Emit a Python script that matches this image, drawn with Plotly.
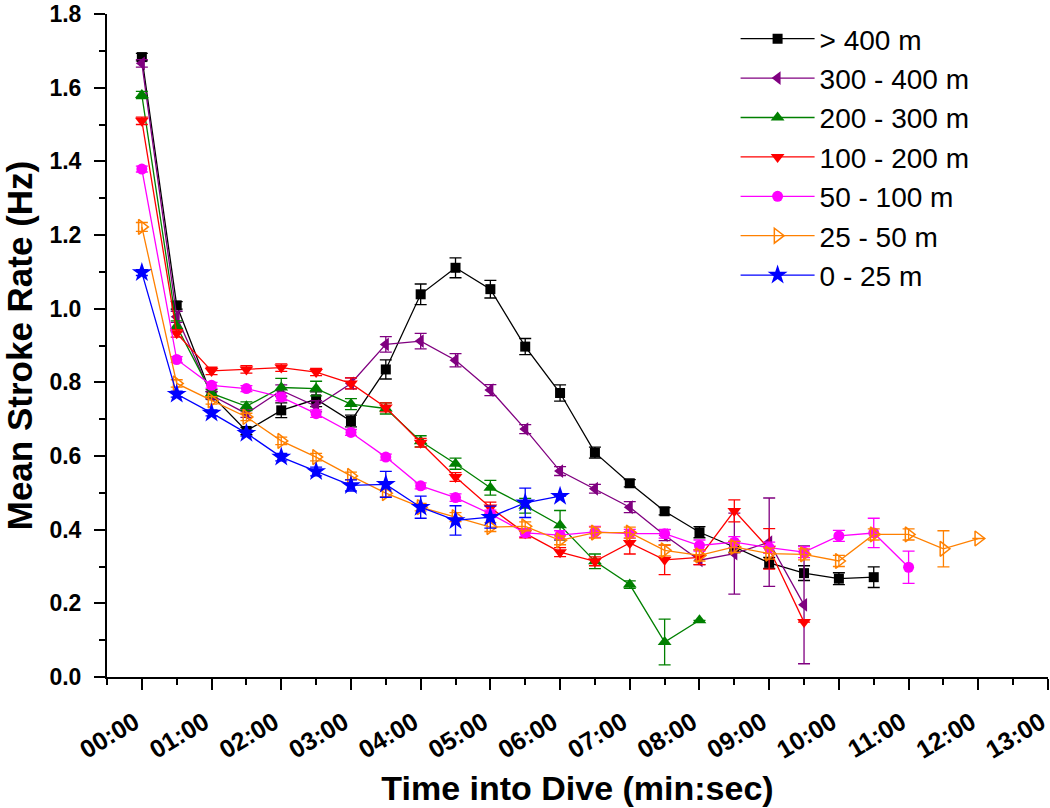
import plotly.graph_objects as go

# Time into dive, minutes (one point every 30 s)
TIME_MIN = [0.0, 0.5, 1.0, 1.5, 2.0, 2.5, 3.0, 3.5, 4.0, 4.5, 5.0, 5.5, 6.0,
            6.5, 7.0, 7.5, 8.0, 8.5, 9.0, 9.5, 10.0, 10.5, 11.0, 11.5, 12.0]

TICK_VALS = [0, 1, 2, 3, 4, 5, 6, 7, 8, 9, 10, 11, 12, 13]
TICK_TEXT = ["00:00", "01:00", "02:00", "03:00", "04:00", "05:00", "06:00",
             "07:00", "08:00", "09:00", "10:00", "11:00", "12:00", "13:00"]

LABELS = ["> 400 m", "300 - 400 m", "200 - 300 m", "100 - 200 m",
          "50 - 100 m", "25 - 50 m", "0 - 25 m"]

d400 = [1.683, 1.009, 0.765, 0.668, 0.724, 0.754, 0.695, 0.835, 1.039, 1.111,
        1.053, 0.897, 0.771, 0.609, 0.526, 0.450, 0.393, 0.353, 0.310, 0.282,
        0.267, 0.271]
e400 = [0.010, 0.010, 0.010, 0.010, 0.020, 0.020, 0.016, 0.026, 0.028, 0.027,
        0.024, 0.022, 0.022, 0.015, 0.010, 0.010, 0.015, 0.015, 0.015, 0.020,
        0.016, 0.028]

d300 = [1.666, 0.978, 0.765, 0.715, 0.778, 0.735, 0.797, 0.903, 0.912, 0.860,
        0.779, 0.673, 0.559, 0.511, 0.461, 0.385, 0.317, 0.335, 0.366, 0.196]
e300 = [0.010, 0.015, 0.010, 0.010, 0.015, 0.015, 0.015, 0.021, 0.021, 0.018,
        0.015, 0.012, 0.012, 0.012, 0.015, 0.015, 0.012, 0.110, 0.120, 0.160]

d200 = [1.580, 0.952, 0.770, 0.735, 0.786, 0.783, 0.741, 0.729, 0.640, 0.579,
        0.514, 0.465, 0.412, 0.314, 0.251, 0.095, 0.154]
e200 = [0.010, 0.015, 0.010, 0.012, 0.025, 0.020, 0.015, 0.015, 0.015, 0.015,
        0.020, 0.020, 0.040, 0.020, 0.010, 0.062, 0.0]

d100 = [1.510, 0.933, 0.831, 0.835, 0.840, 0.828, 0.797, 0.732, 0.636, 0.543,
        0.460, 0.390, 0.339, 0.314, 0.364, 0.318, 0.325, 0.451, 0.348, 0.149]
e100 = [0.010, 0.010, 0.010, 0.010, 0.010, 0.010, 0.015, 0.012, 0.012, 0.012,
        0.015, 0.012, 0.012, 0.012, 0.030, 0.040, 0.020, 0.030, 0.055, 0.0]

d50 = [1.379, 0.862, 0.792, 0.783, 0.760, 0.715, 0.664, 0.597, 0.519, 0.487,
       0.443, 0.391, 0.385, 0.394, 0.389, 0.389, 0.357, 0.366, 0.351, 0.339,
       0.383, 0.391, 0.298]
e50 = [0.008, 0.008, 0.008, 0.008, 0.010, 0.010, 0.008, 0.008, 0.008, 0.010,
       0.010, 0.010, 0.012, 0.015, 0.012, 0.012, 0.015, 0.015, 0.015, 0.015,
       0.015, 0.040, 0.044]

d25 = [1.222, 0.797, 0.751, 0.706, 0.641, 0.597, 0.546, 0.499, 0.461, 0.434,
       0.407, 0.409, 0.371, 0.392, 0.392, 0.344, 0.330, 0.353, 0.335, 0.333,
       0.315, 0.387, 0.387, 0.348, 0.376]
e25 = [0.012, 0.010, 0.010, 0.010, 0.010, 0.010, 0.010, 0.010, 0.010, 0.012,
       0.012, 0.012, 0.012, 0.015, 0.015, 0.015, 0.015, 0.015, 0.015, 0.015,
       0.015, 0.015, 0.015, 0.049, 0.0]

d0 = [1.098, 0.768, 0.717, 0.662, 0.597, 0.558, 0.520, 0.523, 0.461, 0.425,
      0.434, 0.473, 0.491]
e0 = [0.008, 0.008, 0.008, 0.008, 0.010, 0.012, 0.015, 0.035, 0.030, 0.040,
      0.030, 0.040, 0.0]

SERIES = [d400, d300, d200, d100, d50, d25, d0]
ERRORS = [e400, e300, e200, e100, e50, e25, e0]
COLORS = ["#000000", "#800080", "#008000", "#ff0000", "#ff00ff", "#ff8000", "#0000ff"]
SYMBOLS = ["square", "triangle-left", "triangle-up", "triangle-down",
           "circle", "triangle-right-open", "star"]
SIZES = [10, 12, 12, 12, 11, 13, 15]

FONT = "Liberation Sans, Arial, sans-serif"

fig = go.Figure()
for lab, ys, es, col, sym, sz in zip(LABELS, SERIES, ERRORS, COLORS, SYMBOLS, SIZES):
    fig.add_trace(go.Scatter(
        x=TIME_MIN[:len(ys)], y=ys, name=lab, mode="lines+markers",
        line=dict(color=col, width=1.3),
        marker=dict(color=col, symbol=sym, size=sz,
                    line=dict(color=col, width=1.5 if "open" in sym else 0)),
        error_y=dict(type="data", array=es, visible=True, color=col,
                     thickness=1.3, width=6),
    ))

axis_common = dict(
    showline=True, linecolor="black", linewidth=2,
    ticks="outside", ticklen=11, tickwidth=2, tickcolor="black",
    showgrid=False, zeroline=False, mirror=False,
)

fig.update_xaxes(
    range=[-0.5, 13], tickmode="array", tickvals=TICK_VALS, ticktext=TICK_TEXT,
    tickangle=-31, ticklabelstandoff=8, ticklabelshift=-7,
    ticklabeloverflow="allow",
    tickfont=dict(family=FONT, size=25, color="black", weight="bold"),
    minor=dict(dtick=0.5, tick0=0, ticks="outside", ticklen=6, tickwidth=2,
               tickcolor="black"),
    title=dict(text="Time into Dive (min:sec)", standoff=14,
               font=dict(family=FONT, size=34, color="black", weight="bold")),
    **axis_common,
)
fig.update_yaxes(
    range=[0, 1.8], dtick=0.2, tick0=0, tickformat=".1f",
    ticklabelstandoff=8,
    tickfont=dict(family=FONT, size=23, color="black", weight="bold"),
    minor=dict(dtick=0.1, tick0=0, ticks="outside", ticklen=6, tickwidth=2,
               tickcolor="black"),
    title=dict(text="Mean Stroke Rate (Hz)", standoff=6,
               font=dict(family=FONT, size=35, color="black", weight="bold")),
    **axis_common,
)

fig.update_layout(
    width=1050, height=808,
    margin=dict(l=107, r=2, t=14, b=131, autoexpand=False),
    paper_bgcolor="white", plot_bgcolor="white",
    showlegend=True,
    legend=dict(x=0.668, y=1.0, xanchor="left", yanchor="top",
                bgcolor="rgba(0,0,0,0)", itemwidth=74,
                font=dict(family=FONT, size=28, color="black")),
)

fig.write_html("out.html", config={"displayModeBar": False},
               post_script="document.body.style.margin='0';document.body.style.padding='0';")
